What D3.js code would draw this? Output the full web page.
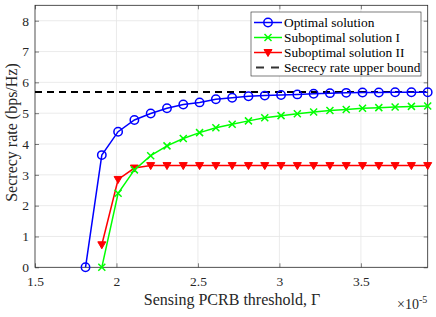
<!DOCTYPE html>
<html><head><meta charset="utf-8">
<script src="https://cdn.jsdelivr.net/npm/d3@7"></script>
<style>body{margin:0;background:#fff;} svg text{font-family:"Liberation Serif","Times New Roman",serif;}</style>
</head><body><svg id="c" width="436" height="317" font-family="Liberation Serif"></svg>
<script>
const xs = [1.81,1.91,2.01,2.11,2.21,2.31,2.41,2.51,2.61,2.71,2.81,2.91,3.01,3.11,3.21,3.31,3.41,3.51,3.61,3.71,3.81,3.91];
const optimal = [0,3.64,4.40,4.78,4.99,5.16,5.28,5.35,5.45,5.50,5.55,5.57,5.59,5.61,5.63,5.65,5.66,5.67,5.67,5.68,5.68,5.68];
const subI = [null,0,2.40,3.16,3.62,3.94,4.18,4.37,4.53,4.64,4.75,4.85,4.92,4.98,5.04,5.09,5.12,5.16,5.18,5.20,5.22,5.23];
const subII = [null,0.73,2.85,3.22,3.30,3.30,3.30,3.30,3.30,3.30,3.30,3.30,3.30,3.30,3.30,3.30,3.30,3.30,3.30,3.30,3.30,3.30];
const upperBound = 5.69;
const xTicks = [1.5,2,2.5,3,3.5];
const yTicks = [0,1,2,3,4,5,6,7,8];
const legendLabels = ["Optimal solution","Suboptimal solution I","Suboptimal solution II","Secrecy rate upper bound"];

const FF = "Liberation Serif";
const svg = d3.select("#c");
const L=35, R=427.7, T=5.3, B=267.3;
const x = d3.scaleLinear().domain([1.5,3.91]).range([L,R]);
const y = d3.scaleLinear().domain([0,8.5]).range([B,T]);

// grid
const g = svg.append("g");
g.selectAll(".gx").data(xTicks.slice(1)).enter().append("line")
 .attr("x1",d=>x(d)).attr("x2",d=>x(d)).attr("y1",T).attr("y2",B).attr("stroke","#e6e6e6").attr("stroke-width",0.8);
g.selectAll(".gy").data(yTicks.slice(1)).enter().append("line")
 .attr("x1",L).attr("x2",R).attr("y1",d=>y(d)).attr("y2",d=>y(d)).attr("stroke","#e6e6e6").attr("stroke-width",0.8);

// axes
const axCol="#262626";
const TS=13.5;
const xa = svg.append("g").attr("transform",`translate(0,${B})`).call(d3.axisBottom(x).tickValues(xTicks).tickSize(-4).tickPadding(9.5).tickFormat(d3.format("")));
const xa2 = svg.append("g").attr("transform",`translate(0,${T})`).call(d3.axisTop(x).tickValues(xTicks).tickSize(-4).tickFormat(""));
const ya = svg.append("g").attr("transform",`translate(${L},0)`).call(d3.axisLeft(y).tickValues(yTicks).tickSize(-4).tickPadding(6));
const ya2 = svg.append("g").attr("transform",`translate(${R},0)`).call(d3.axisRight(y).tickValues(yTicks).tickSize(-4).tickFormat(""));
[xa,xa2,ya,ya2].forEach(a=>{a.attr("font-family",FF).attr("font-size",TS);a.select(".domain").remove();a.selectAll("line").attr("stroke",axCol).attr("stroke-width",0.6);a.selectAll("text").attr("fill",axCol).attr("font-family",FF).attr("font-size",TS);});
svg.append("rect").attr("x",L).attr("y",T).attr("width",R-L).attr("height",B-T).attr("fill","none").attr("stroke",axCol).attr("stroke-width",0.8);

// upper bound
svg.append("line").attr("x1",L).attr("x2",R).attr("y1",y(upperBound)).attr("y2",y(upperBound))
 .attr("stroke","#000").attr("stroke-width",2).attr("stroke-dasharray","7,5");

const line = d3.line().x(d=>x(d[0])).y(d=>y(d[1]));
function pts(arr){return xs.map((v,i)=>[v,arr[i]]).filter(d=>d[1]!=null);}

const series = [
 {data:subII,color:"#ff0000",m:"tri"},
 {data:subI,color:"#00ff00",m:"x"},
 {data:optimal,color:"#0000ff",m:"o"}
];
function marker(sel,m,color){
 if(m==="o") sel.append("circle").attr("r",4.2).attr("fill","none").attr("stroke",color).attr("stroke-width",1.5);
 else if(m==="x") sel.append("path").attr("d","M-3.5,-3.5L3.5,3.5M-3.5,3.5L3.5,-3.5").attr("stroke",color).attr("stroke-width",1.5);
 else sel.append("path").attr("d","M-4,-3L4,-3L0,4Z").attr("fill",color).attr("stroke",color).attr("stroke-width",1);
}
series.forEach(s=>{
 const p=pts(s.data);
 svg.append("path").datum(p).attr("d",line).attr("fill","none").attr("stroke",s.color).attr("stroke-width",1.5);
 p.forEach(d=>{const gm=svg.append("g").attr("transform",`translate(${x(d[0])},${y(d[1])})`);marker(gm,s.m,s.color);});
});

// legend
const lg = svg.append("g");
lg.append("rect").attr("x",251).attr("y",12).attr("width",170).attr("height",64).attr("fill","#fff").attr("stroke",axCol).attr("stroke-width",0.6);
const legendStyles=[{c:"#0000ff",m:"o"},{c:"#00ff00",m:"x"},{c:"#ff0000",m:"tri"},{c:"#000",m:null}];
legendLabels.forEach((t,i)=>{
 const cy=22.5+i*15;
 const st=legendStyles[i];
 const ln=lg.append("line").attr("x1",254).attr("x2",282).attr("y1",cy).attr("y2",cy).attr("stroke",st.c).attr("stroke-width",1.5);
 if(!st.m) ln.attr("stroke-dasharray","8,7").attr("x1",256).attr("x2",280).attr("stroke-width",2).attr("stroke","#333");
 else {const gm=lg.append("g").attr("transform",`translate(268,${cy})`);marker(gm,st.m,st.c);}
 lg.append("text").attr("x",284).attr("y",cy+4.2).text(t).attr("font-family",FF).attr("font-size",13.4).attr("fill","#000");
});

// labels
svg.append("text").attr("x",232).attr("y",304.5).attr("text-anchor","middle").attr("font-family",FF).attr("font-size",16).attr("fill",axCol).text("Sensing PCRB threshold, Γ");
svg.append("text").attr("transform",`translate(17,132.5) rotate(-90)`).attr("text-anchor","middle").attr("font-family",FF).attr("font-size",16).attr("fill",axCol).text("Secrecy rate (bps/Hz)");
const ex = svg.append("text").attr("x",397).attr("y",309).attr("font-family",FF).attr("font-size",14).attr("fill",axCol);
ex.append("tspan").text("×10");
ex.append("tspan").attr("dy",-6).attr("font-size",10).text("-5");
</script></body></html>
